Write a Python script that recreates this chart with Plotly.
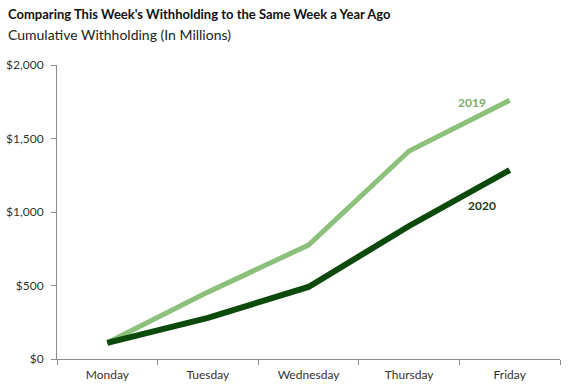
import plotly.graph_objects as go

days = ["Monday", "Tuesday", "Wednesday", "Thursday", "Friday"]
y2019 = [110, 455, 775, 1415, 1760]
y2020 = [110, 280, 490, 905, 1285]
yticks = [0, 500, 1000, 1500, 2000]
yticklabels = ["$0", "$500", "$1,000", "$1,500", "$2,000"]

c2019 = "#8bc17b"
c2020 = "#0b4a0b"
font = "Lato, Open Sans, sans-serif"

fig = go.Figure()
fig.add_trace(go.Scatter(x=days, y=y2019, mode="lines", name="2019",
                         line=dict(color=c2019, width=5)))
fig.add_trace(go.Scatter(x=days, y=y2020, mode="lines", name="2020",
                         line=dict(color=c2020, width=6)))

fig.add_annotation(x=3.625, y=1748, text="<b>2019</b>", showarrow=False,
                   font=dict(color="#77ad65", size=12, family=font))
fig.add_annotation(x=3.72, y=1047, text="<b>2020</b>", showarrow=False,
                   font=dict(color="#1c3a1c", size=12, family=font))

# Title and subtitle
fig.add_annotation(xref="paper", yref="paper", x=-0.1014, y=1.1735, xanchor="left", yanchor="middle",
                   text="<b>Comparing This Week's Withholding to the Same Week a Year Ago</b>",
                   showarrow=False, font=dict(size=13, family=font, color="#111"))
fig.add_annotation(xref="paper", yref="paper", x=-0.1014, y=1.105, xanchor="left", yanchor="middle",
                   text="Cumulative Withholding (In Millions)",
                   showarrow=False, font=dict(size=14, family=font, color="#222"))

fig.update_layout(
    width=569, height=390,
    margin=dict(l=57, r=9, t=65, b=31),
    paper_bgcolor="white", plot_bgcolor="white",
    showlegend=False,
    font=dict(family=font, size=12, color="#333"),
    xaxis=dict(
        type="category", showgrid=False, showline=True, linecolor="#8c8c8c", linewidth=1,
        ticks="outside", tickson="boundaries", ticklen=5, tickcolor="#8c8c8c",
        range=[-0.5, 4.5], tickfont=dict(size=12, color="#333"), automargin=False,
        ticklabelstandoff=5,
    ),
    yaxis=dict(
        range=[0, 2000], tickvals=yticks, ticktext=yticklabels, showgrid=False,
        showline=True, linecolor="#8c8c8c", linewidth=1, ticks="outside", ticklen=5,
        tickcolor="#8c8c8c", tickfont=dict(size=12, color="#333"), zeroline=False,
        automargin=False, ticklabelstandoff=5,
    ),
)

fig.write_html("out.html", config={"displayModeBar": False},
               post_script="document.body.style.margin='0px';")
